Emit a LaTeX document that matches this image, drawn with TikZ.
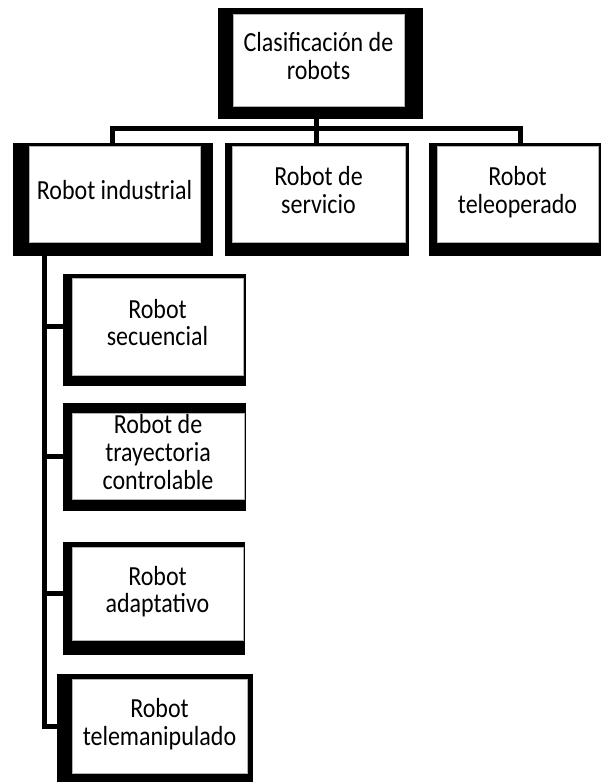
\documentclass[tikz,border=0pt]{standalone}
\usepackage{fontspec}
\setmainfont{Carlito}
\usepackage{graphicx}
\usepackage{tikz}
\usetikzlibrary{positioning}

% taller glyphs, as in the reference
\newcommand{\boxtext}[1]{\scalebox{1}[1.15]{\begin{tabular}{@{}c@{}}#1\end{tabular}}}

\begin{document}
\begin{tikzpicture}[
  x=1pt, y=-1pt,
  box/.style={rectangle, draw=gray!60, line width=1pt, fill=white, align=center,
    inner sep=0pt, font=\fontsize{24}{24}\selectfont},
  frame/.style={fill=black},
  conn/.style={line width=5pt}
]
  \useasboundingbox (0,0) rectangle (601,782);

  % heavy black frames
  \fill[frame] (218,8) rectangle (423,119);
  \fill[frame] (13,143) rectangle (213,256);
  \fill[frame] (225,143) rectangle (409,256);
  \fill[frame] (429,143) rectangle (612,256);
  \fill[frame] (63,274) rectangle (246,386);
  \fill[frame] (63,403) rectangle (246,511);
  \fill[frame] (63,542) rectangle (245,655);
  \fill[frame] (57,674) rectangle (253,790);

  \node[box, minimum width=171pt, minimum height=92pt] (top) at (318.5,60) {\boxtext{Clasificación de\\robots}};
  \node[box, minimum width=171pt, minimum height=96pt] (ind) at (114.5,194) {\boxtext{Robot industrial}};
  \node[box, minimum width=173pt, minimum height=96pt] (srv) at (318.5,194) {\boxtext{Robot de\\servicio}};
  \node[box, minimum width=161pt, minimum height=96pt] (tel) at (517.5,194) {\boxtext{Robot\\teleoperado}};
  \node[box, minimum width=171pt, minimum height=97pt] (sec) at (157.5,326.5) {\boxtext{Robot\\secuencial}};
  \node[box, minimum width=172pt, minimum height=86pt] (tra) at (158,456) {\boxtext{Robot de\\trayectoria\\controlable}};
  \node[box, minimum width=171pt, minimum height=93pt] (ada) at (157.5,593.5) {\boxtext{Robot\\adaptativo}};
  \node[box, minimum width=175pt, minimum height=94pt] (man) at (159.5,726) {\boxtext{Robot\\telemanipulado}};

  \coordinate (bus) at (316,128.5);
  \coordinate (trunk) at (44.5,256);

  \draw[conn] (top.south -| bus) -- (bus);
  \draw[conn] (ind.north -| 112,0) |- (bus) -| (tel.north -| 520,0);
  \draw[conn] (bus) -- (srv.north -| bus);
  \draw[conn] (trunk) |- (sec.west);
  \draw[conn] (trunk) |- (tra.west);
  \draw[conn] (trunk) |- (ada.west);
  \draw[conn] (trunk) |- (man.west);
\end{tikzpicture}
\end{document}
